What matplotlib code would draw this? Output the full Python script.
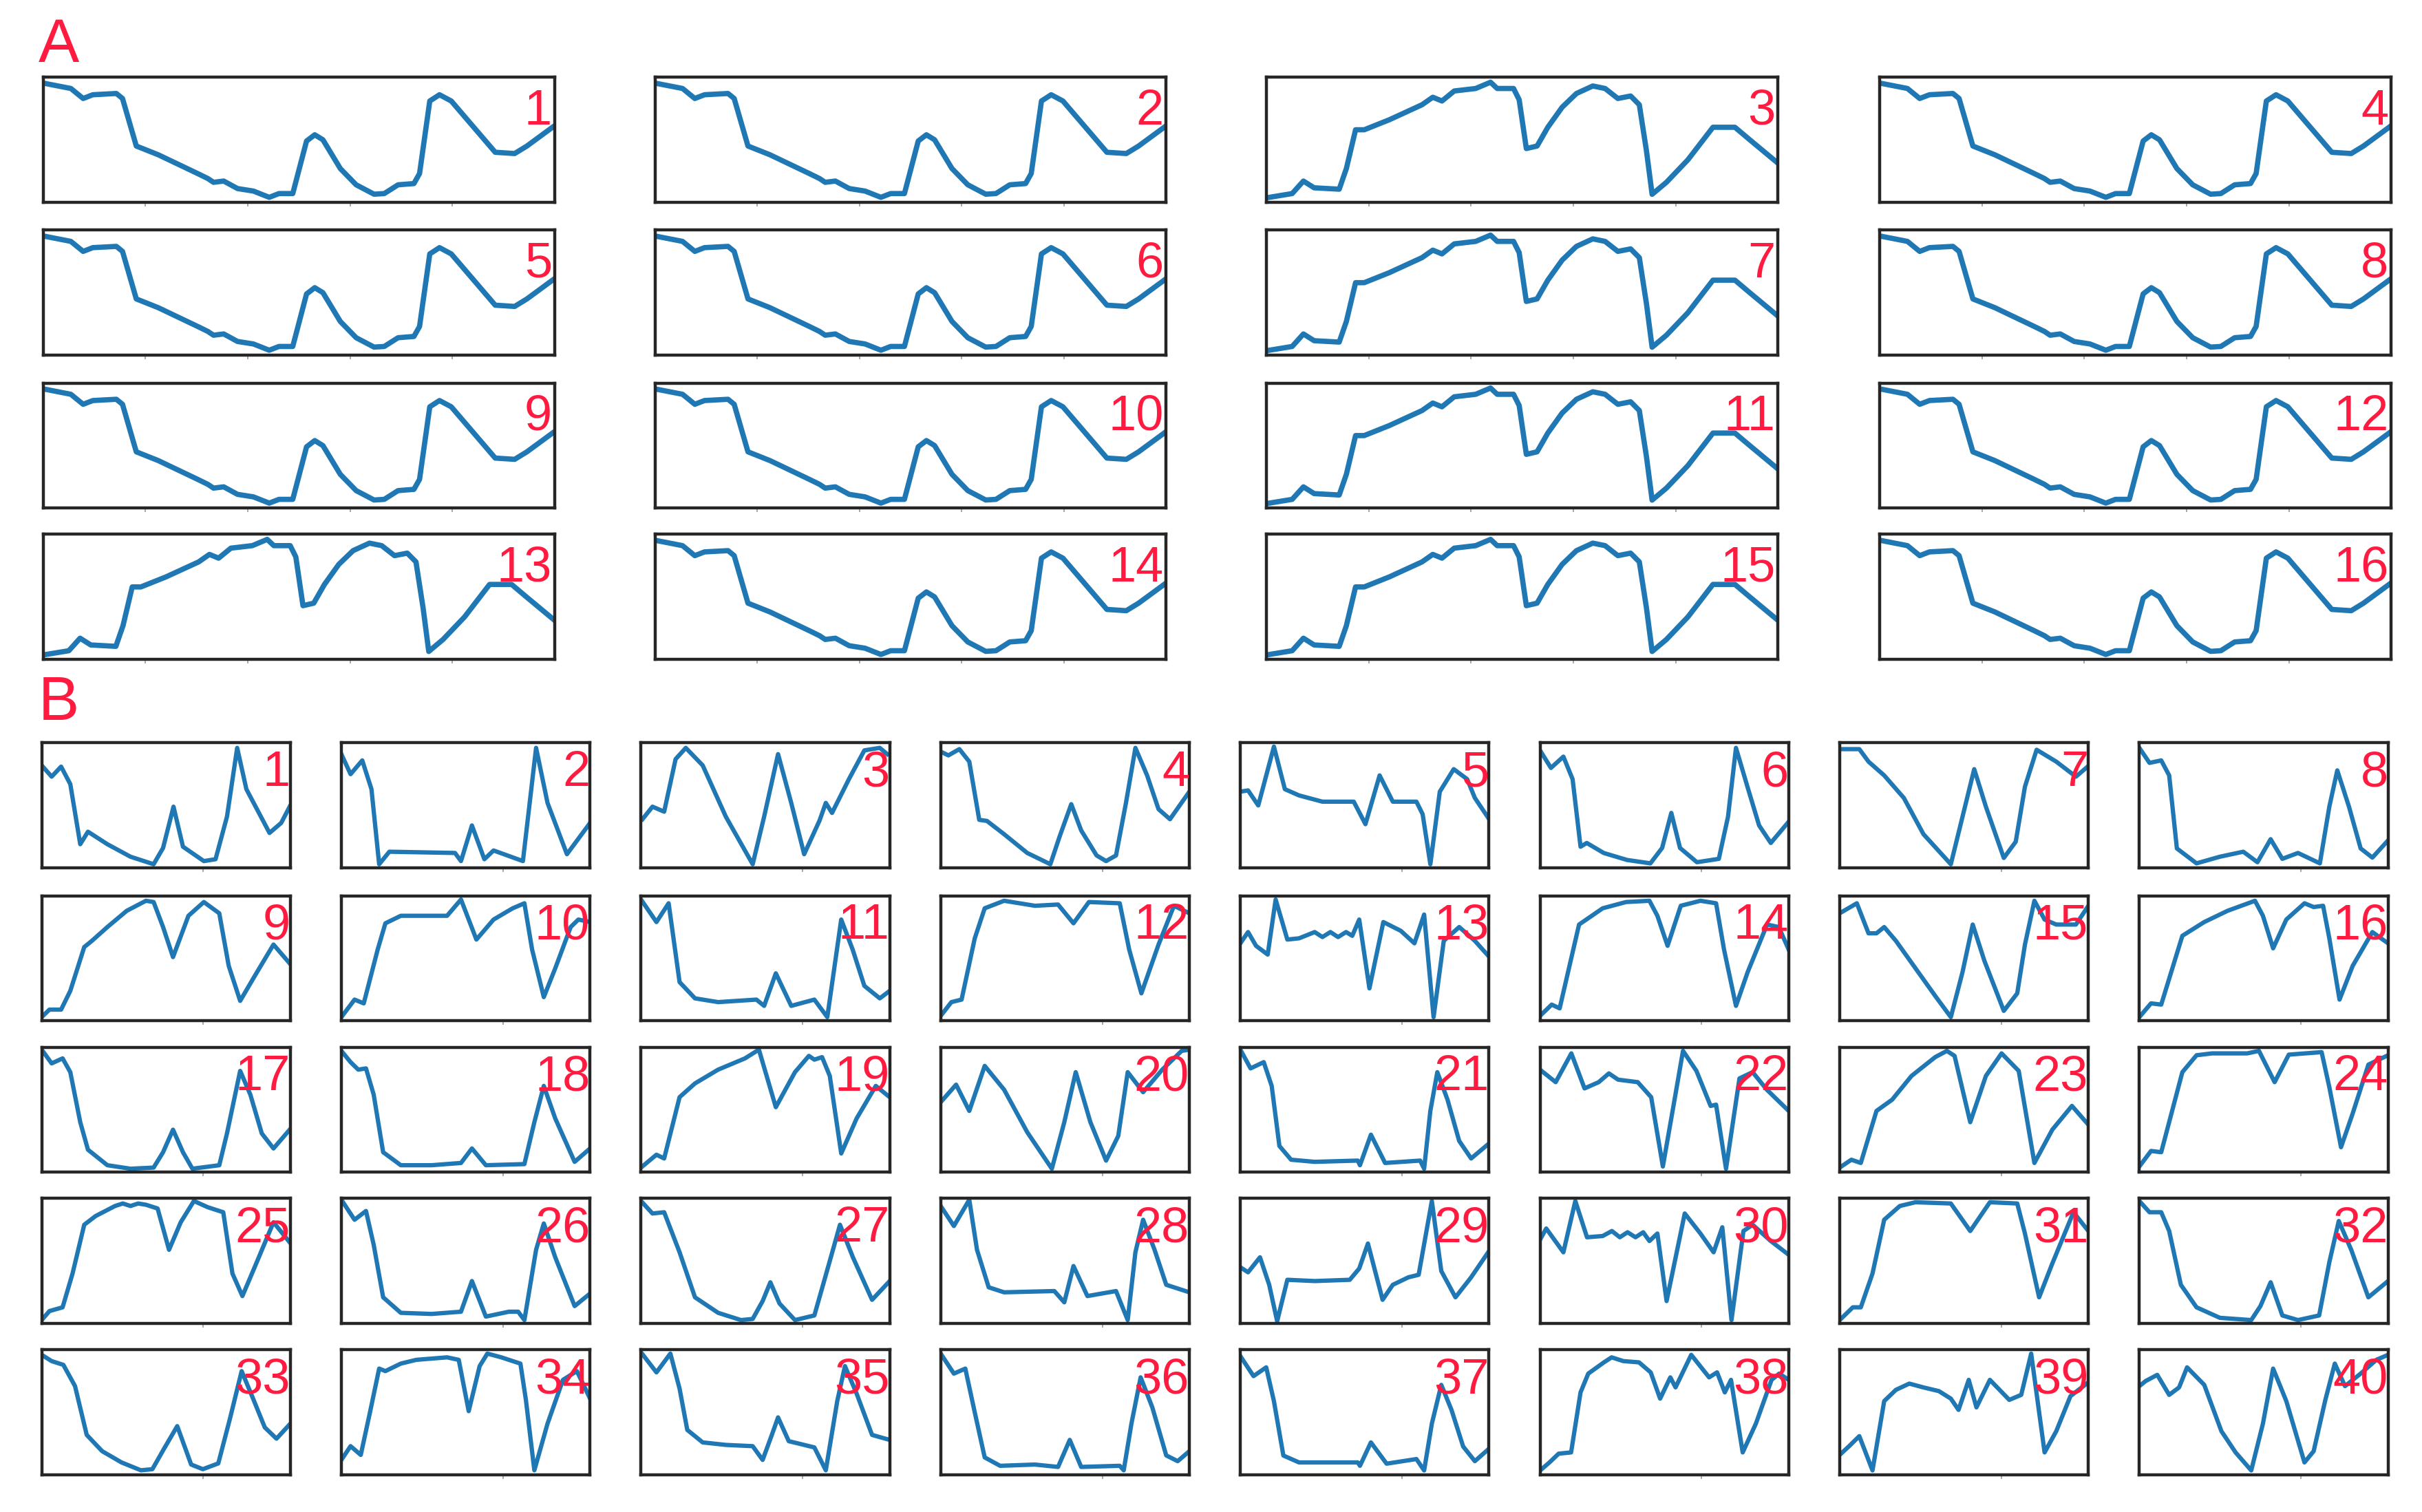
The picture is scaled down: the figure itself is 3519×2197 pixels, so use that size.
import matplotlib
matplotlib.use("Agg")
import matplotlib.pyplot as plt

# ---- panel A: two template signals (x and y are fractions of the window) ----
a_fall_x = [0.004, 0.054, 0.078, 0.097, 0.143, 0.155, 0.182, 0.225, 0.302, 0.322, 0.333, 0.353,
            0.38, 0.411, 0.442, 0.461, 0.488, 0.515, 0.531, 0.547, 0.581, 0.612, 0.647, 0.667,
            0.694, 0.725, 0.736, 0.756, 0.775, 0.798, 0.884, 0.922, 0.946, 0.996]
a_fall_y = [0.95, 0.91, 0.83, 0.86, 0.87, 0.83, 0.45, 0.38, 0.23, 0.19, 0.16, 0.17,
            0.11, 0.09, 0.04, 0.07, 0.07, 0.49, 0.54, 0.50, 0.27, 0.14, 0.065, 0.07,
            0.14, 0.15, 0.23, 0.81, 0.86, 0.81, 0.40, 0.39, 0.45, 0.60]
a_rise_x = [0.001, 0.05, 0.072, 0.093, 0.142, 0.156, 0.174, 0.191, 0.24, 0.304, 0.325, 0.343,
            0.367, 0.409, 0.438, 0.451, 0.483, 0.494, 0.508, 0.529, 0.55, 0.578, 0.606, 0.638,
            0.662, 0.687, 0.712, 0.729, 0.743, 0.754, 0.782, 0.824, 0.873, 0.916, 0.945, 0.998]
a_rise_y = [0.037, 0.07, 0.17, 0.116, 0.105, 0.27, 0.58, 0.58, 0.66, 0.78, 0.84, 0.81,
            0.89, 0.91, 0.96, 0.91, 0.91, 0.82, 0.43, 0.45, 0.60, 0.76, 0.87, 0.93,
            0.91, 0.83, 0.85, 0.78, 0.41, 0.064, 0.16, 0.34, 0.60, 0.60, 0.50, 0.32]
a_rise_panels = [3, 7, 11, 13, 15]

# ---- panel B: 40 windows ----
b01 = ([0, 0.04, 0.078, 0.115, 0.155, 0.186, 0.264, 0.357, 0.45, 0.488, 0.53, 0.568, 0.652, 0.699, 0.745, 0.786, 0.823, 0.916, 0.963, 0.997],
       [0.82, 0.73, 0.81, 0.67, 0.19, 0.29, 0.19, 0.09, 0.03, 0.16, 0.49, 0.17, 0.055, 0.07, 0.41, 0.96, 0.63, 0.28, 0.36, 0.49])
b02 = ([0, 0.037, 0.084, 0.121, 0.152, 0.193, 0.457, 0.481, 0.525, 0.575, 0.612, 0.73, 0.783, 0.829, 0.907, 1.0],
       [0.91, 0.75, 0.86, 0.63, 0.03, 0.13, 0.12, 0.055, 0.34, 0.07, 0.14, 0.055, 0.96, 0.52, 0.11, 0.36])
b03 = ([0.006, 0.046, 0.093, 0.139, 0.18, 0.248, 0.341, 0.449, 0.495, 0.551, 0.604, 0.656, 0.718, 0.743, 0.768, 0.836, 0.898, 0.96, 0.99],
       [0.39, 0.49, 0.45, 0.87, 0.96, 0.82, 0.41, 0.03, 0.41, 0.91, 0.52, 0.11, 0.38, 0.52, 0.44, 0.71, 0.94, 0.96, 0.91])
b04 = ([0, 0.031, 0.075, 0.115, 0.155, 0.186, 0.255, 0.348, 0.441, 0.478, 0.525, 0.565, 0.627, 0.665, 0.705, 0.745, 0.783, 0.83, 0.876, 0.922, 1.0],
       [0.93, 0.90, 0.95, 0.85, 0.385, 0.376, 0.27, 0.12, 0.03, 0.25, 0.51, 0.30, 0.10, 0.055, 0.10, 0.52, 0.96, 0.74, 0.47, 0.39, 0.61])
b05 = ([0, 0.031, 0.072, 0.135, 0.179, 0.236, 0.33, 0.456, 0.503, 0.56, 0.613, 0.708, 0.733, 0.764, 0.802, 0.858, 0.912, 0.943, 0.997],
       [0.61, 0.62, 0.50, 0.97, 0.63, 0.58, 0.53, 0.53, 0.35, 0.74, 0.53, 0.53, 0.43, 0.03, 0.61, 0.79, 0.71, 0.56, 0.40])
b06 = ([0, 0.044, 0.094, 0.131, 0.163, 0.188, 0.256, 0.35, 0.444, 0.491, 0.528, 0.563, 0.631, 0.719, 0.756, 0.788, 0.834, 0.881, 0.928, 1.0],
       [0.94, 0.80, 0.89, 0.71, 0.17, 0.20, 0.12, 0.064, 0.037, 0.16, 0.44, 0.16, 0.046, 0.073, 0.41, 0.96, 0.65, 0.34, 0.20, 0.37])
b07 = ([0.006, 0.079, 0.116, 0.179, 0.258, 0.337, 0.447, 0.494, 0.541, 0.588, 0.66, 0.708, 0.745, 0.792, 0.871, 0.95, 0.997],
       [0.95, 0.95, 0.85, 0.74, 0.56, 0.27, 0.03, 0.41, 0.79, 0.49, 0.08, 0.21, 0.65, 0.945, 0.85, 0.73, 0.81])
b08 = ([0, 0.041, 0.088, 0.12, 0.151, 0.23, 0.324, 0.418, 0.475, 0.528, 0.575, 0.638, 0.726, 0.764, 0.796, 0.843, 0.89, 0.937, 1.0],
       [0.96, 0.84, 0.86, 0.74, 0.156, 0.037, 0.09, 0.13, 0.046, 0.23, 0.073, 0.12, 0.037, 0.49, 0.78, 0.49, 0.156, 0.083, 0.22])
b09 = ([0, 0.031, 0.078, 0.115, 0.171, 0.202, 0.264, 0.342, 0.419, 0.45, 0.488, 0.528, 0.59, 0.652, 0.714, 0.752, 0.798, 0.854, 0.932, 0.997],
       [0.03, 0.09, 0.09, 0.24, 0.59, 0.64, 0.75, 0.88, 0.96, 0.95, 0.75, 0.51, 0.84, 0.95, 0.86, 0.44, 0.16, 0.35, 0.61, 0.46])
b10 = ([0, 0.053, 0.09, 0.146, 0.177, 0.239, 0.425, 0.481, 0.543, 0.612, 0.689, 0.736, 0.767, 0.814, 0.86, 0.922, 0.953, 1.0],
       [0.03, 0.17, 0.14, 0.57, 0.78, 0.84, 0.84, 0.97, 0.65, 0.81, 0.90, 0.94, 0.57, 0.19, 0.42, 0.75, 0.81, 0.79])
b11 = ([0, 0.062, 0.111, 0.155, 0.217, 0.31, 0.464, 0.495, 0.542, 0.604, 0.697, 0.749, 0.805, 0.851, 0.898, 0.96, 1.0],
       [0.97, 0.79, 0.94, 0.31, 0.18, 0.15, 0.17, 0.12, 0.38, 0.12, 0.17, 0.03, 0.81, 0.57, 0.28, 0.18, 0.24])
b12 = ([0, 0.043, 0.084, 0.137, 0.177, 0.255, 0.379, 0.472, 0.534, 0.596, 0.72, 0.758, 0.807, 0.876, 0.938, 1.0],
       [0.04, 0.15, 0.17, 0.66, 0.90, 0.96, 0.92, 0.93, 0.78, 0.95, 0.94, 0.57, 0.22, 0.61, 0.92, 0.86])
b13 = ([0, 0.031, 0.063, 0.11, 0.142, 0.189, 0.236, 0.299, 0.33, 0.362, 0.393, 0.425, 0.45, 0.478, 0.519, 0.575, 0.645, 0.7, 0.739, 0.777, 0.818, 0.88, 0.943, 0.997],
       [0.62, 0.71, 0.60, 0.53, 0.97, 0.65, 0.66, 0.71, 0.67, 0.71, 0.67, 0.71, 0.68, 0.81, 0.26, 0.79, 0.72, 0.62, 0.85, 0.03, 0.64, 0.75, 0.64, 0.52])
b14 = ([0, 0.047, 0.079, 0.157, 0.252, 0.346, 0.44, 0.472, 0.513, 0.566, 0.645, 0.708, 0.74, 0.788, 0.835, 0.913, 0.96, 1.0],
       [0.04, 0.13, 0.10, 0.77, 0.90, 0.95, 0.96, 0.84, 0.60, 0.92, 0.96, 0.94, 0.57, 0.12, 0.39, 0.77, 0.75, 0.57])
b15 = ([0, 0.069, 0.116, 0.148, 0.179, 0.226, 0.305, 0.384, 0.447, 0.494, 0.535, 0.582, 0.66, 0.714, 0.745, 0.783, 0.824, 0.871, 0.95, 1.0],
       [0.86, 0.94, 0.70, 0.70, 0.75, 0.64, 0.42, 0.20, 0.03, 0.39, 0.77, 0.48, 0.08, 0.22, 0.61, 0.96, 0.81, 0.77, 0.77, 0.92])
b16 = ([0, 0.047, 0.088, 0.173, 0.261, 0.355, 0.465, 0.497, 0.538, 0.591, 0.664, 0.701, 0.739, 0.764, 0.805, 0.858, 0.937, 1.0],
       [0.03, 0.14, 0.13, 0.68, 0.79, 0.88, 0.96, 0.84, 0.58, 0.81, 0.94, 0.91, 0.92, 0.66, 0.17, 0.44, 0.71, 0.62])
b17 = ([0, 0.04, 0.084, 0.115, 0.155, 0.186, 0.264, 0.357, 0.45, 0.488, 0.528, 0.568, 0.606, 0.714, 0.745, 0.798, 0.839, 0.885, 0.932, 0.997],
       [0.98, 0.87, 0.91, 0.80, 0.40, 0.18, 0.056, 0.028, 0.037, 0.16, 0.34, 0.16, 0.028, 0.056, 0.31, 0.81, 0.62, 0.31, 0.19, 0.34])
b18 = ([0, 0.037, 0.068, 0.099, 0.13, 0.168, 0.239, 0.363, 0.481, 0.525, 0.581, 0.736, 0.776, 0.814, 0.86, 0.938, 1.0],
       [0.97, 0.88, 0.82, 0.83, 0.62, 0.16, 0.056, 0.056, 0.074, 0.19, 0.056, 0.065, 0.40, 0.69, 0.43, 0.083, 0.19])
b19 = ([0, 0.062, 0.093, 0.155, 0.217, 0.31, 0.418, 0.474, 0.542, 0.619, 0.675, 0.697, 0.728, 0.759, 0.805, 0.867, 0.944, 1.0],
       [0.037, 0.14, 0.11, 0.60, 0.71, 0.82, 0.91, 0.98, 0.52, 0.80, 0.93, 0.90, 0.92, 0.77, 0.15, 0.43, 0.69, 0.60])
b20 = ([0, 0.062, 0.115, 0.177, 0.255, 0.348, 0.447, 0.497, 0.543, 0.602, 0.665, 0.714, 0.752, 0.814, 0.891, 0.969, 1.0],
       [0.56, 0.70, 0.49, 0.85, 0.66, 0.32, 0.028, 0.40, 0.80, 0.40, 0.093, 0.29, 0.80, 0.64, 0.82, 0.97, 0.98])
b21 = ([0, 0.041, 0.094, 0.126, 0.157, 0.204, 0.299, 0.472, 0.481, 0.525, 0.582, 0.723, 0.739, 0.764, 0.792, 0.833, 0.88, 0.928, 1.0],
       [0.98, 0.83, 0.88, 0.69, 0.21, 0.10, 0.083, 0.093, 0.056, 0.30, 0.074, 0.093, 0.028, 0.49, 0.80, 0.58, 0.25, 0.11, 0.23])
b22 = ([0, 0.063, 0.126, 0.179, 0.236, 0.277, 0.314, 0.393, 0.447, 0.494, 0.541, 0.575, 0.629, 0.686, 0.708, 0.748, 0.802, 0.855, 0.912, 1.0],
       [0.82, 0.72, 0.95, 0.67, 0.72, 0.79, 0.74, 0.72, 0.60, 0.046, 0.58, 0.97, 0.81, 0.53, 0.54, 0.028, 0.75, 0.80, 0.66, 0.49])
b23 = ([0, 0.047, 0.085, 0.148, 0.211, 0.289, 0.384, 0.431, 0.462, 0.525, 0.588, 0.651, 0.72, 0.783, 0.855, 0.934, 1.0],
       [0.037, 0.10, 0.074, 0.49, 0.58, 0.77, 0.92, 0.97, 0.93, 0.40, 0.77, 0.95, 0.81, 0.074, 0.34, 0.53, 0.38])
b24 = ([0, 0.047, 0.088, 0.173, 0.23, 0.292, 0.434, 0.481, 0.544, 0.601, 0.733, 0.764, 0.811, 0.858, 0.921, 1.0],
       [0.046, 0.17, 0.16, 0.80, 0.935, 0.95, 0.95, 0.97, 0.72, 0.94, 0.96, 0.68, 0.20, 0.47, 0.86, 0.935])
b25 = ([0, 0.031, 0.084, 0.124, 0.171, 0.217, 0.295, 0.326, 0.357, 0.388, 0.419, 0.466, 0.512, 0.559, 0.612, 0.668, 0.73, 0.767, 0.807, 0.854, 0.932, 0.997],
       [0.028, 0.10, 0.13, 0.40, 0.79, 0.86, 0.94, 0.96, 0.94, 0.96, 0.95, 0.92, 0.59, 0.81, 0.98, 0.93, 0.89, 0.40, 0.22, 0.44, 0.81, 0.65])
b26 = ([0, 0.053, 0.099, 0.13, 0.168, 0.239, 0.363, 0.481, 0.525, 0.581, 0.674, 0.711, 0.736, 0.783, 0.814, 0.86, 0.938, 1.0],
       [0.99, 0.83, 0.90, 0.63, 0.21, 0.086, 0.077, 0.095, 0.34, 0.056, 0.095, 0.095, 0.028, 0.59, 0.80, 0.53, 0.14, 0.24])
b27 = ([0, 0.046, 0.093, 0.155, 0.217, 0.31, 0.402, 0.449, 0.489, 0.52, 0.557, 0.619, 0.697, 0.759, 0.8, 0.852, 0.929, 1.0],
       [0.98, 0.88, 0.89, 0.57, 0.21, 0.086, 0.028, 0.037, 0.18, 0.33, 0.16, 0.028, 0.065, 0.50, 0.79, 0.53, 0.19, 0.34])
b28 = ([0, 0.053, 0.115, 0.146, 0.193, 0.255, 0.457, 0.497, 0.534, 0.59, 0.705, 0.752, 0.783, 0.814, 0.86, 0.907, 1.0],
       [0.94, 0.78, 0.99, 0.59, 0.29, 0.25, 0.26, 0.17, 0.46, 0.22, 0.26, 0.028, 0.57, 0.83, 0.59, 0.31, 0.25])
b29 = ([0, 0.031, 0.079, 0.116, 0.148, 0.189, 0.299, 0.44, 0.478, 0.513, 0.572, 0.613, 0.676, 0.717, 0.77, 0.808, 0.865, 0.928, 1.0],
       [0.45, 0.41, 0.53, 0.31, 0.019, 0.35, 0.34, 0.35, 0.44, 0.64, 0.19, 0.31, 0.37, 0.39, 0.98, 0.42, 0.21, 0.37, 0.58])
b30 = ([0, 0.025, 0.094, 0.142, 0.189, 0.252, 0.289, 0.321, 0.352, 0.384, 0.415, 0.44, 0.472, 0.509, 0.582, 0.645, 0.698, 0.733, 0.77, 0.818, 0.855, 0.928, 1.0],
       [0.67, 0.76, 0.57, 0.98, 0.69, 0.70, 0.74, 0.69, 0.73, 0.69, 0.73, 0.66, 0.72, 0.18, 0.88, 0.72, 0.57, 0.77, 0.028, 0.74, 0.79, 0.66, 0.55])
b31 = ([0, 0.053, 0.085, 0.132, 0.179, 0.242, 0.305, 0.447, 0.525, 0.604, 0.714, 0.745, 0.802, 0.855, 0.94, 1.0],
       [0.028, 0.13, 0.13, 0.40, 0.83, 0.94, 0.97, 0.96, 0.74, 0.97, 0.96, 0.72, 0.21, 0.48, 0.89, 0.74])
b32 = ([0, 0.041, 0.088, 0.12, 0.167, 0.23, 0.324, 0.45, 0.487, 0.528, 0.575, 0.638, 0.723, 0.764, 0.802, 0.852, 0.921, 1.0],
       [0.98, 0.89, 0.89, 0.74, 0.31, 0.13, 0.046, 0.028, 0.14, 0.33, 0.065, 0.028, 0.065, 0.49, 0.82, 0.59, 0.21, 0.34])
b33 = ([0, 0.04, 0.087, 0.134, 0.181, 0.243, 0.321, 0.399, 0.445, 0.492, 0.545, 0.601, 0.648, 0.71, 0.757, 0.804, 0.85, 0.897, 0.944, 1.0],
       [0.96, 0.91, 0.88, 0.71, 0.32, 0.19, 0.10, 0.037, 0.046, 0.21, 0.39, 0.083, 0.046, 0.092, 0.45, 0.83, 0.61, 0.38, 0.29, 0.41])
b34 = ([0, 0.037, 0.078, 0.115, 0.152, 0.177, 0.239, 0.301, 0.363, 0.425, 0.472, 0.512, 0.556, 0.587, 0.643, 0.72, 0.742, 0.776, 0.829, 0.891, 0.947, 1.0],
       [0.12, 0.23, 0.16, 0.50, 0.85, 0.83, 0.89, 0.92, 0.93, 0.94, 0.92, 0.51, 0.87, 0.97, 0.94, 0.89, 0.60, 0.037, 0.41, 0.76, 0.83, 0.61])
b35 = ([0, 0.062, 0.118, 0.155, 0.186, 0.248, 0.341, 0.449, 0.489, 0.526, 0.551, 0.594, 0.697, 0.743, 0.789, 0.82, 0.867, 0.929, 1.0],
       [0.98, 0.82, 0.97, 0.69, 0.36, 0.26, 0.24, 0.23, 0.12, 0.32, 0.46, 0.27, 0.22, 0.037, 0.59, 0.87, 0.65, 0.32, 0.28])
b36 = ([0, 0.053, 0.099, 0.137, 0.177, 0.239, 0.379, 0.472, 0.519, 0.565, 0.72, 0.736, 0.767, 0.804, 0.851, 0.907, 0.953, 1.0],
       [0.97, 0.81, 0.85, 0.50, 0.14, 0.073, 0.083, 0.064, 0.28, 0.064, 0.073, 0.037, 0.41, 0.78, 0.54, 0.156, 0.11, 0.19])
b37 = ([0, 0.053, 0.104, 0.135, 0.173, 0.236, 0.472, 0.481, 0.525, 0.588, 0.708, 0.739, 0.77, 0.808, 0.849, 0.896, 0.943, 1.0],
       [0.95, 0.79, 0.86, 0.59, 0.155, 0.10, 0.10, 0.073, 0.26, 0.09, 0.127, 0.036, 0.41, 0.72, 0.52, 0.227, 0.11, 0.21])
b38 = ([0.006, 0.038, 0.075, 0.125, 0.163, 0.194, 0.257, 0.288, 0.335, 0.398, 0.445, 0.483, 0.524, 0.545, 0.608, 0.68, 0.712, 0.743, 0.768, 0.815, 0.868, 0.931, 0.962, 1.0],
       [0.045, 0.10, 0.17, 0.18, 0.66, 0.81, 0.90, 0.94, 0.91, 0.90, 0.82, 0.61, 0.78, 0.70, 0.96, 0.78, 0.82, 0.66, 0.76, 0.18, 0.41, 0.76, 0.81, 0.76])
b39 = ([0, 0.038, 0.079, 0.132, 0.179, 0.226, 0.28, 0.336, 0.399, 0.447, 0.478, 0.519, 0.55, 0.604, 0.682, 0.73, 0.77, 0.824, 0.871, 0.928, 1.0],
       [0.16, 0.23, 0.31, 0.036, 0.59, 0.68, 0.73, 0.70, 0.67, 0.61, 0.52, 0.76, 0.54, 0.76, 0.60, 0.64, 0.97, 0.18, 0.35, 0.63, 0.74])
b40 = ([0, 0.025, 0.072, 0.12, 0.16, 0.192, 0.261, 0.33, 0.387, 0.45, 0.497, 0.538, 0.591, 0.664, 0.701, 0.748, 0.786, 0.827, 0.89, 0.953, 1.0],
       [0.71, 0.75, 0.80, 0.64, 0.70, 0.86, 0.72, 0.35, 0.18, 0.036, 0.41, 0.85, 0.59, 0.10, 0.19, 0.60, 0.89, 0.71, 0.81, 0.92, 0.96])

b_curves = [b01, b02, b03, b04, b05, b06, b07, b08, b09, b10, b11, b12, b13, b14, b15, b16, b17, b18, b19, b20,
            b21, b22, b23, b24, b25, b26, b27, b28, b29, b30, b31, b32, b33, b34, b35, b36, b37, b38, b39, b40]

BLUE = '#1f77b4'
RED = '#ff1a40'
W, H = 1568.0, 979.0   # layout measured on the shrunk reference
NUM_FONT = ['Liberation Sans', 'DejaVu Sans']

fig = plt.figure(figsize=(35.19, 21.97), dpi=100)


def make_ax(left, top, width, height):
    ax = fig.add_axes([left / W, 1 - (top + height) / H, width / W, height / H])
    for sp in ax.spines.values():
        sp.set_linewidth(3.2)
        sp.set_color('#262626')
    ax.set_xlim(0, 1)
    ax.set_ylim(0, 1)
    ax.set_yticks([])
    ax.tick_params(axis='x', length=4, width=1.2, color='#999999', labelbottom=False)
    return ax


# panel A
a_left = [28, 424, 820, 1217]
a_top = [50, 149, 248, 346]
for i in range(16):
    r, c = divmod(i, 4)
    ax = make_ax(a_left[c], a_top[r], 331, 81)
    ax.set_xticks([0.2, 0.4, 0.6, 0.8])
    if i + 1 in a_rise_panels:
        ax.plot(a_rise_x, a_rise_y, color=BLUE, lw=5.5, solid_joinstyle='round')
    else:
        ax.plot(a_fall_x, a_fall_y, color=BLUE, lw=5.5, solid_joinstyle='round')
    ax.text(0.995, 0.91, str(i + 1), transform=ax.transAxes, ha='right', va='top',
            color=RED, fontsize=52, family=NUM_FONT, zorder=5)

# panel B
b_left = [27, 221, 415, 609, 803, 997, 1191, 1385]
b_top = [481, 580, 678, 776, 874]
for i, (xs, ys) in enumerate(b_curves):
    r, c = divmod(i, 8)
    ax = make_ax(b_left[c], b_top[r], 161, 81)
    ax.set_xticks([0.65])
    ax.plot(xs, ys, color=BLUE, lw=4.5, solid_joinstyle='round')
    ax.text(1.0, 0.94, str(i + 1), transform=ax.transAxes, ha='right', va='top',
            color=RED, fontsize=52, family=NUM_FONT, zorder=5)

fig.text(25 / W, 1 - 40 / H, 'A', color=RED, fontsize=64, family=NUM_FONT,
         ha='left', va='baseline')
fig.text(25 / W, 1 - 466 / H, 'B', color=RED, fontsize=64, family=NUM_FONT,
         ha='left', va='baseline')

fig.savefig('out.png', dpi=100)
